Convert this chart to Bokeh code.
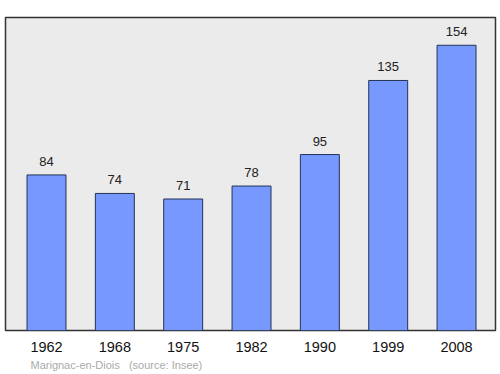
from bokeh.plotting import figure
from bokeh.models import ColumnDataSource, FixedTicker, Range1d, Title
from bokeh.core.properties import value
from bokeh.embed import file_html
from bokeh.resources import INLINE

years = ["1962", "1968", "1975", "1982", "1990", "1999", "2008"]
population = [84, 74, 71, 78, 95, 135, 154]

xs = list(range(len(years)))
src = ColumnDataSource(dict(x=xs, top=population, label=[str(v) for v in population]))

p = figure(width=500, height=374, output_backend="svg", toolbar_location=None,
           x_range=Range1d(-0.6, 6.57), y_range=Range1d(0, 169))
p.min_border_left = 5
p.min_border_right = 5
p.min_border_top = 17
p.min_border_bottom = 44
p.background_fill_color = "#ebebeb"
p.border_fill_color = "white"
p.outline_line_color = "#333333"
p.outline_line_width = 1.5
p.grid.visible = False
p.yaxis.visible = False

p.vbar(x="x", top="top", bottom=0, width=0.57, source=src,
       fill_color="#7799ff", line_color="#223355", line_width=1)
p.text(x="x", y="top", text="label", source=src, text_align="center",
       text_baseline="bottom", y_offset=-9, text_font_size="13px",
       text_font=value("Liberation Sans"), text_color="#222222")

ax = p.xaxis[0]
ax.ticker = FixedTicker(ticks=xs)
ax.major_label_overrides = {i: y for i, y in enumerate(years)}
ax.major_label_text_font = "Liberation Sans"
ax.major_label_text_font_size = "14.5px"
ax.major_label_text_color = "#111111"
ax.major_tick_line_color = None
ax.minor_tick_line_color = None
ax.axis_line_color = None
ax.major_label_standoff = 5

p.add_layout(Title(text="Marignac-en-Diois\u00a0\u00a0\u00a0(source: Insee)", text_font="Liberation Sans",
                   text_font_size="11px", text_color="#aaaaaa", text_font_style="normal",
                   offset=25, standoff=4), "below")

open("out.html", "w").write(file_html(p, INLINE))
